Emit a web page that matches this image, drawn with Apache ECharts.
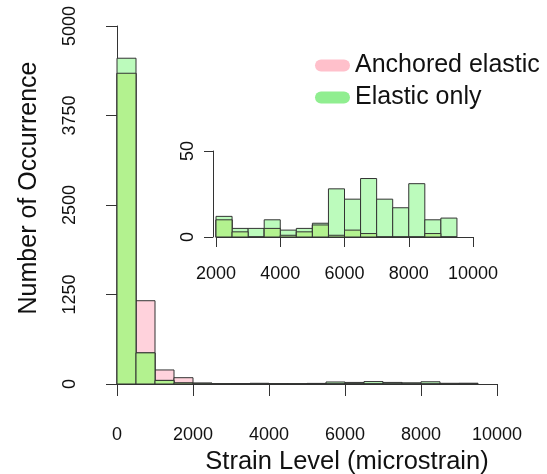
<!DOCTYPE html>
<html>
<head>
<meta charset="utf-8">
<script src="https://cdn.jsdelivr.net/npm/echarts@6/dist/echarts.min.js"></script>
<style>
  html, body { margin: 0; padding: 0; background: #fff; }
  #main { width: 547px; height: 474px; }
</style>
</head>
<body>
<div id="main"></div>
<script>
// histogram bins (microstrain), width 500
const binStart = [0, 500, 1000, 1500, 2000, 2500, 3000, 3500, 4000, 4500,
                  5000, 5500, 6000, 6500, 7000, 7500, 8000, 8500, 9000];
const binWidth = 500;
// counts per bin
const anchoredElastic = [4340, 1163, 196, 88, 10, 3, 0, 5, 1, 3,
                         7, 1, 4, 2, 0, 0, 0, 2, 0];
const elasticOnly = [4550, 435, 50, 15, 12, 5, 5, 10, 4, 5,
                     8, 28, 22, 34, 22, 17, 31, 10, 11];
const seriesNames = ["Anchored elastic", "Elastic only"];
const insetFrom = 2000;

const pinkFill = "#ffd2dc";
const greenFill = "#bcfbbc";
const overlapFill = "#b3f28f";
const edge = "#333";
const font = "Liberation Sans, Arial, sans-serif";

function binData(counts, from) {
    let out = [];
    for (let i = 0; i < binStart.length; i++) {
        if (binStart[i] >= from) {
            out.push([binStart[i], binStart[i] + binWidth, counts[i]]);
        }
    }
    return out;
}
let overlap = anchoredElastic.map((v, i) => Math.min(v, elasticOnly[i]));

function histItem(fill) {
    return function(params, api) {
        let p0 = api.coord([api.value(0), 0]);
        let p1 = api.coord([api.value(1), api.value(2)]);
        return {
            type: "rect",
            shape: { x: p0[0], y: p1[1], width: p1[0] - p0[0], height: p0[1] - p1[1] },
            style: { fill: fill, stroke: edge, lineWidth: 1 }
        };
    };
}

function histSeries(name, counts, fill, from, axisIndex) {
    return {
        type: "custom",
        name: name,
        xAxisIndex: axisIndex,
        yAxisIndex: axisIndex,
        itemStyle: { color: fill },
        renderItem: histItem(fill),
        data: binData(counts, from),
        silent: true
    };
}

let axisLine = { show: true, lineStyle: { color: edge, width: 1 } };
let tickLbl = {
    color: "#111", fontSize: 18, fontFamily: font,
    formatter: function(value) { return String(value); }
};

let chart = echarts.init(document.getElementById("main"));
let option = {
    animation: false,
    backgroundColor: "#fff",
    grid: [
        { left: 117, right: 50, top: 26, bottom: 90, outerBoundsMode: "none", containLabel: false },
        { left: 216, right: 74, top: 151, bottom: 237, outerBoundsMode: "none", containLabel: false }
    ],
    legend: {
        orient: "vertical",
        left: 310,
        top: 48,
        itemWidth: 35,
        itemHeight: 12,
        itemGap: 7,
        icon: "path://M6,0 L29,0 A6,6 0 0 1 29,12 L6,12 A6,6 0 0 1 6,0 Z",
        textStyle: { fontSize: 25, fontFamily: font, color: "#111", lineHeight: 24 },
        data: [
            { name: seriesNames[0], itemStyle: { color: "#ffc0cb", borderWidth: 0 } },
            { name: seriesNames[1], itemStyle: { color: "#90ee90", borderWidth: 0 } }
        ]
    },
    xAxis: [
        {
            type: "value", gridIndex: 0, min: 0, max: 10000, interval: 2000,
            offset: 14,
            name: "Strain Level (microstrain)", nameLocation: "middle", nameGap: 51,
            nameMoveOverlap: false,
            nameTextStyle: { fontSize: 25.5, fontFamily: font, color: "#111", padding: [0, 0, 0, 80] },
            axisLine: axisLine,
            axisTick: { show: true, length: 12, lineStyle: { color: edge } },
            axisLabel: Object.assign({ margin: 28 }, tickLbl),
            splitLine: { show: false }
        },
        {
            type: "value", gridIndex: 1, min: 2000, max: 10000, interval: 2000,
            offset: 4,
            axisLine: axisLine,
            axisTick: { show: true, length: 10, lineStyle: { color: edge } },
            axisLabel: Object.assign({ margin: 24 }, tickLbl),
            splitLine: { show: false }
        }
    ],
    yAxis: [
        {
            type: "value", gridIndex: 0, min: 0, max: 5000, interval: 1250,
            offset: 14,
            name: "Number of Occurrence", nameLocation: "middle", nameGap: 61,
            nameMoveOverlap: false,
            nameTextStyle: { fontSize: 25, fontFamily: font, color: "#111", padding: [0, 0, 0, 34] },
            axisLine: axisLine,
            axisTick: { show: true, length: 11, lineStyle: { color: edge } },
            axisLabel: Object.assign({ rotate: 90, margin: 24 }, tickLbl),
            splitLine: { show: false }
        },
        {
            type: "value", gridIndex: 1, min: 0, max: 50, interval: 50,
            offset: 3,
            axisLine: axisLine,
            axisTick: { show: true, length: 9, lineStyle: { color: edge } },
            axisLabel: Object.assign({ rotate: 90, margin: 16 }, tickLbl),
            splitLine: { show: false }
        }
    ],
    series: [
        histSeries(seriesNames[0], anchoredElastic, pinkFill, 0, 0),
        histSeries(seriesNames[1], elasticOnly, greenFill, 0, 0),
        histSeries("overlap", overlap, overlapFill, 0, 0),
        histSeries(seriesNames[0], anchoredElastic, pinkFill, insetFrom, 1),
        histSeries(seriesNames[1], elasticOnly, greenFill, insetFrom, 1),
        histSeries("overlap", overlap, overlapFill, insetFrom, 1)
    ]
};
chart.setOption(option, true);
</script>
</body>
</html>
